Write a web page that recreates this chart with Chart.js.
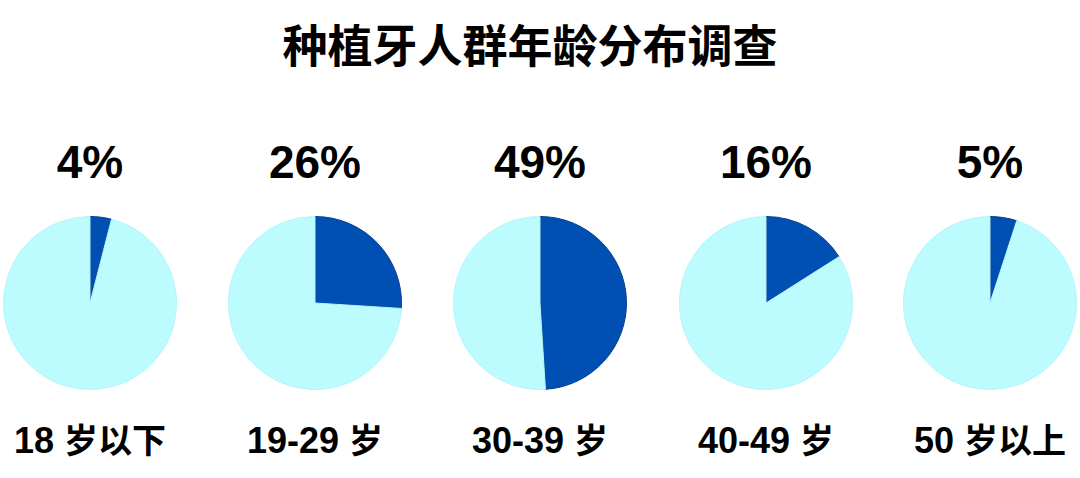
<!DOCTYPE html>
<html>
<head>
<meta charset="utf-8">
<script src="https://cdn.jsdelivr.net/npm/chart.js@4/dist/chart.umd.min.js"></script>
<style>
  html, body { margin: 0; padding: 0; background: #fff; }
  #page { position: relative; width: 1080px; height: 478px; overflow: hidden; }
  .title {
    position: absolute; left: 0; width: 1060px; top: 19px;
    text-align: center; font: bold 45px "Noto Sans CJK SC", sans-serif;
    line-height: 50px; color: #000;
  }
  .pct, .lbl {
    position: absolute; width: 220px; text-align: center; color: #000;
    font-family: "Liberation Sans", Arial, "Noto Sans CJK SC", sans-serif; font-weight: bold;
  }
  .pct { font-size: 46px; line-height: 50px; top: 137px; }
  .lbl { font-size: 36px; line-height: 40px; top: 421px; }
  .lbl .cjk { font-size: 34px; }
  .pie { position: absolute; width: 174px; height: 174px; top: 216px; }
</style>
</head>
<body>
<div id="page">
  <div class="title">种植牙人群年龄分布调查</div>
</div>
<script>
// data
const ageGroups = ['18 岁以下', '19-29 岁', '30-39 岁', '40-49 岁', '50 岁以上'];
const sharePct = [4, 26, 49, 16, 5];
const restPct = [96, 74, 51, 84, 95];
const centersX = [90, 315, 540, 766, 990];

const darkBlue = '#0050b4';
const lightCyan = '#bcfcff';

const page = document.getElementById('page');

ageGroups.forEach((name, i) => {
  const cx = centersX[i];

  const pct = document.createElement('div');
  pct.className = 'pct';
  pct.style.left = (cx - 110) + 'px';
  pct.textContent = sharePct[i] + '%';
  page.appendChild(pct);

  // label: digits in latin font, chinese a touch smaller
  const lbl = document.createElement('div');
  lbl.className = 'lbl';
  lbl.style.left = (cx - 110) + 'px';
  const cut = name.indexOf(' ');
  lbl.appendChild(document.createTextNode(name.slice(0, cut + 1)));
  const cjk = document.createElement('span');
  cjk.className = 'cjk';
  cjk.textContent = name.slice(cut + 1);
  lbl.appendChild(cjk);
  page.appendChild(lbl);

  const box = document.createElement('div');
  box.className = 'pie';
  box.style.left = (cx - 87) + 'px';
  const cv = document.createElement('canvas');
  box.appendChild(cv);
  page.appendChild(box);

  new Chart(cv, {
    type: 'pie',
    data: {
      labels: [name, '其他'],
      datasets: [{
        data: [sharePct[i], restPct[i]],
        backgroundColor: [darkBlue, lightCyan],
        borderColor: ['#0a3f8c', '#b4f4fa'],
        borderWidth: 1
      }]
    },
    options: {
      responsive: true,
      maintainAspectRatio: false,
      animation: false,
      layout: { padding: 0 },
      plugins: {
        legend: { display: false },
        tooltip: { enabled: false }
      }
    }
  });
});
</script>
</body>
</html>
